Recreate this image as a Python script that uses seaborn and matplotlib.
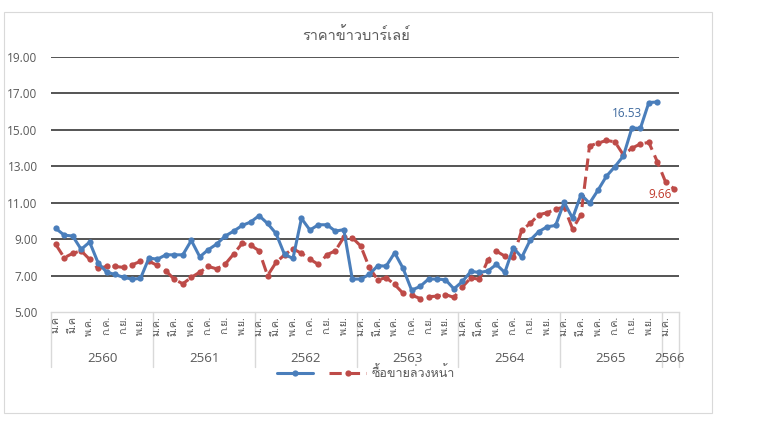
import numpy as np
import pandas as pd
import matplotlib
matplotlib.use("Agg")
import matplotlib.pyplot as plt
import seaborn as sns
from matplotlib import font_manager
from matplotlib.ft2font import FT2Font
from matplotlib.lines import Line2D
from matplotlib.patches import Rectangle


title = "ราคาข้าวบาร์เลย์"
legend_label = "ซื้อขายล่วงหน้า"
years = ["2560", "2561", "2562", "2563", "2564", "2565", "2566"]
months_per_year = [12, 12, 12, 12, 12, 12, 2]
month_labels_first = ["ม.ค", "มี.ค", "พ.ค.", "ก.ค.", "ก.ย.", "พ.ย."]
month_labels = ["ม.ค.", "มี.ค.", "พ.ค.", "ก.ค.", "ก.ย.", "พ.ย."]

# ราคา (เส้นทึบ) ม.ค. 2560 - ธ.ค. 2565
spot_price = [
    9.59, 9.22, 9.17, 8.44, 8.84, 7.70, 7.19, 7.06, 6.90, 6.81, 6.84, 7.96,
    7.90, 8.14, 8.14, 8.14, 8.93, 8.03, 8.42, 8.73, 9.17, 9.44, 9.75, 9.94,
    10.29, 9.86, 9.31, 8.16, 7.94, 10.14, 9.50, 9.79, 9.79, 9.44, 9.52, 6.81,
    6.81, 7.06, 7.54, 7.52, 8.25, 7.39, 6.20, 6.40, 6.81, 6.81, 6.77, 6.27,
    6.68, 7.23, 7.17, 7.25, 7.61, 7.17, 8.53, 8.00, 8.95, 9.41, 9.68, 9.75,
    11.02, 10.15, 11.45, 10.97, 11.69, 12.46, 12.98, 13.57, 15.10, 15.08, 16.50, 16.53,
]

# ซื้อขายล่วงหน้า ม.ค. 2560 - ก.พ. 2566
futures_price = [
    8.71, 7.98, 8.22, 8.36, 7.89, 7.39, 7.50, 7.50, 7.45, 7.59, 7.78, 7.78,
    7.56, 7.26, 6.79, 6.55, 6.90, 7.19, 7.50, 7.37, 7.63, 8.18, 8.77, 8.67,
    8.36, 7.00, 7.72, 8.14, 8.47, 8.22, 7.90, 7.61, 8.14, 8.36, 9.10, 9.08,
    8.62, 7.45, 6.77, 6.88, 6.51, 6.02, 5.93, 5.74, 5.84, 5.87, 5.96, 5.80,
    6.38, 6.88, 6.79, 7.85, 8.34, 8.07, 8.00, 9.50, 9.86, 10.34, 10.45, 10.65,
    10.76, 9.56, 10.34, 14.12, 14.27, 14.42, 14.34, 13.62, 13.99, 14.23, 14.31, 13.25,
    12.11, 11.76,
]

spot_label = "16.53"
futures_label = "9.66"

BLUE = "#4A7EBB"
RED = "#BE4B48"
GRAY_TXT = "#595959"

sns.set_theme(style="white")

# หาฟอนต์ที่มีอักษรไทย
thai_fonts = []
for f in font_manager.fontManager.ttflist:
    try:
        if 0x0E01 in FT2Font(f.fname).get_charmap() and f.name not in thai_fonts:
            thai_fonts.append(f.name)
    except Exception:
        pass
names = {f.name for f in font_manager.fontManager.ttflist}
base = "Liberation Sans Narrow" if "Liberation Sans Narrow" in names else "Open Sans"
plt.rcParams["font.family"] = [base] + thai_fonts + ["DejaVu Sans"]

fig = plt.figure(figsize=(7.63, 4.28), dpi=100)
W, H = 763, 428
ax = fig.add_axes([51.5 / W, 1 - 312 / H, (678.5 - 51.5) / W, (312 - 57) / H])

n_months = sum(months_per_year)
df_spot = pd.DataFrame({"month": np.arange(len(spot_price)), "price": spot_price})
df_fut = pd.DataFrame({"month": np.arange(len(futures_price)), "price": futures_price})

sns.lineplot(data=df_spot, x="month", y="price", ax=ax, color=BLUE, lw=2.2,
             marker="o", markersize=4.5, markeredgewidth=0, zorder=4)
sns.lineplot(data=df_fut, x="month", y="price", ax=ax, color=RED, lw=2.2,
             marker="o", markersize=4.5, markeredgewidth=0, zorder=3)
ax.lines[-1].set_dashes([4, 2])

ax.set_xlim(-0.5, n_months - 0.5)
ax.set_ylim(5, 19)
yt = np.arange(5, 19.1, 2)
ax.set_yticks(yt)
ax.set_yticklabels([f"{v:.2f}" for v in yt], color=GRAY_TXT, fontsize=8.5)
ax.tick_params(axis="y", length=0, pad=10)
ax.set_xticks([])
ax.set_xlabel("")
ax.set_ylabel("")
for v in yt[1:]:
    ax.axhline(v, color="#262626", lw=1.1, zorder=1)
for s in ["top", "left", "right"]:
    ax.spines[s].set_visible(False)
ax.spines["bottom"].set_color("#D9D9D9")
ax.spines["bottom"].set_linewidth(1)

# ป้ายเดือน (ทุก 2 เดือน)
tick_labels = month_labels_first + month_labels * 5 + month_labels[:1]
tick_pos = np.arange(0, n_months, 2)
trans = ax.get_xaxis_transform()
for p, lab in zip(tick_pos, tick_labels):
    ax.text(p, -0.015, lab, transform=trans, rotation=90, ha="center", va="top",
            fontsize=7.8, color=GRAY_TXT)

# ป้ายปีและเส้นแบ่ง
edges = np.concatenate([[0], np.cumsum(months_per_year)]) - 0.5
for e in edges:
    ax.add_line(Line2D([e, e], [0, -0.216], transform=trans, color="#D9D9D9",
                       lw=1, clip_on=False))
for y_lab, a, b in zip(years, edges[:-1], edges[1:]):
    ax.text((a + b) / 2, -0.184, y_lab, transform=trans, ha="center", va="center",
            fontsize=9.5, color=GRAY_TXT)

ax.annotate(spot_label, xy=(len(spot_price) - 1, spot_price[-1]), xytext=(-30, -12),
            textcoords="offset pixels", ha="center", va="center", fontsize=8.5, color="#3F6A9E")
ax.annotate(futures_label, xy=(len(futures_price) - 1, futures_price[-1]), xytext=(-14, -6),
            textcoords="offset pixels", ha="center", va="center", fontsize=8.5, color="#C0392B")

fig.text(356 / W, 1 - 35.7 / H, title, ha="center", va="center", fontsize=10.5, color=GRAY_TXT)

handles = [
    Line2D([], [], color=BLUE, lw=2.2, marker="o", markersize=4.5, markeredgewidth=0),
    Line2D([], [], color=RED, lw=2.2, marker="o", markersize=4.5, markeredgewidth=0, dashes=[4, 2]),
]
fig.legend(handles, ["", legend_label], loc="center", bbox_to_anchor=(366 / W, 1 - 373 / H),
           ncol=2, frameon=False, fontsize=9, handlelength=2.9, handletextpad=0.5,
           columnspacing=0.8, labelcolor=GRAY_TXT)

fig.patches.append(Rectangle((4 / W, 1 - 413 / H), 708 / W, 401 / H, transform=fig.transFigure,
                             fill=False, edgecolor="#D9D9D9", lw=0.8))

fig.savefig("out.png", dpi=100)
